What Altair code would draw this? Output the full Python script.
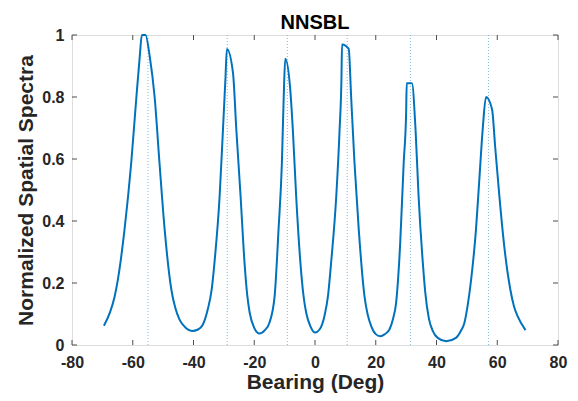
import altair as alt
import pandas as pd

# Spectrum curve (bearing in degrees, normalized spatial spectrum)
bearing = [
    -69.5, -67.5, -66.0, -64.9, -62.7, -60.5, -58.8, -57.7, -57.0, -55.8,
    -54.4, -52.8, -51.2, -49.5, -47.3, -46.0, -44.6, -42.5, -40.5, -38.5,
    -36.9, -35.3, -34.0, -33.1, -31.4, -30.3, -29.5, -29.0, -27.0, -25.9,
    -24.5, -23.2, -22.3, -21.5, -20.0, -18.3, -16.5, -15.0, -13.3, -12.0,
    -10.9, -10.3, -9.8, -8.2, -7.3, -6.2, -4.8, -3.8, -2.9, -1.5,
    0.0, 1.5, 3.1, 4.3, 5.3, 7.0, 8.1, 8.7, 8.9, 11.1,
    11.9, 13.0, 14.4, 16.3, 17.3, 18.5, 20.0, 21.5, 23.0, 24.5,
    25.7, 26.7, 28.0, 29.2, 30.0, 30.2, 31.9, 33.1, 34.1, 35.5,
    36.3, 37.5, 38.8, 40.4, 43.2, 46.4, 48.0, 49.2, 50.3, 51.4,
    53.0, 54.1, 55.2, 56.3, 58.3, 59.3, 60.7, 62.3, 64.3, 65.5,
    66.7, 69.3,
]
spectrum = [
    0.062, 0.105, 0.155, 0.211, 0.373, 0.588, 0.800, 0.930, 1.000, 1.000,
    0.930, 0.800, 0.588, 0.373, 0.179, 0.120, 0.082, 0.055, 0.045, 0.050,
    0.066, 0.115, 0.180, 0.265, 0.480, 0.695, 0.856, 0.955, 0.878, 0.695,
    0.480, 0.265, 0.160, 0.104, 0.055, 0.037, 0.048, 0.072, 0.157, 0.373,
    0.588, 0.800, 0.923, 0.830, 0.695, 0.480, 0.265, 0.160, 0.104, 0.060,
    0.040, 0.050, 0.093, 0.160, 0.265, 0.480, 0.695, 0.856, 0.969, 0.955,
    0.800, 0.588, 0.373, 0.157, 0.100, 0.061, 0.035, 0.028, 0.035, 0.050,
    0.085, 0.136, 0.319, 0.588, 0.749, 0.844, 0.844, 0.695, 0.480, 0.265,
    0.170, 0.085, 0.045, 0.023, 0.012, 0.023, 0.045, 0.072, 0.130, 0.211,
    0.373, 0.534, 0.695, 0.800, 0.760, 0.641, 0.480, 0.319, 0.179, 0.125,
    0.093, 0.048,
]

# True source bearings (dotted vertical lines)
true_bearings = [-55.0, -28.9, -9.1, 10.6, 31.4, 57.1]

# Tick values
x_ticks = [-80, -60, -40, -20, 0, 20, 40, 60, 80]
y_ticks = [0, 0.2, 0.4, 0.6, 0.8, 1]

W, H = 486, 310
FONT = "Liberation Sans"
TXT = "#262626"
TICK = "#4d4d4d"
TL = 5

curve = pd.DataFrame({"b": bearing, "s": spectrum})
truth = pd.DataFrame({"b": true_bearings})
xt = pd.DataFrame({"v": x_ticks})
yt = pd.DataFrame({"v": y_ticks})

xscale = alt.Scale(domain=[-80, 80], nice=False, zero=False)
yscale = alt.Scale(domain=[0, 1], nice=False)

xaxis = alt.Axis(
    values=x_ticks, ticks=False, domain=False, grid=False,
    labelFont=FONT, labelFontSize=16, labelFontWeight="bold", labelColor=TXT,
    labelPadding=9, labelFlush=False, labelOverlap=False,
    labelExpr="replace(datum.label, '\u2212', '-')",
    title="Bearing (Deg)", titleFont=FONT, titleFontSize=21,
    titleFontWeight="bold", titleColor=TXT, titlePadding=1,
)
yaxis = alt.Axis(
    values=y_ticks, format="~g", ticks=False, domain=False, grid=False,
    labelFont=FONT, labelFontSize=16, labelFontWeight="bold", labelColor=TXT,
    labelPadding=8, labelOverlap=False,
    title="Normalized Spatial Spectra", titleFont=FONT, titleFontSize=21,
    titleFontWeight="bold", titleColor=TXT, titlePadding=5,
)

truth_lines = alt.Chart(truth).mark_rule(
    color="#7db9e3", strokeWidth=1, strokeDash=[1, 2]
).encode(x=alt.X("b:Q", scale=xscale, axis=xaxis))

line = alt.Chart(curve).mark_line(
    color="#0072BD", strokeWidth=2, interpolate="monotone"
).encode(
    x=alt.X("b:Q", scale=xscale, axis=xaxis),
    y=alt.Y("s:Q", scale=yscale, axis=yaxis),
    order="b:Q",
)

tick_bottom = alt.Chart(xt).mark_rule(color=TICK, strokeWidth=1).encode(
    x=alt.X("v:Q", scale=xscale, axis=xaxis), y=alt.value(H), y2=alt.value(H - TL)
)
tick_top = alt.Chart(xt).mark_rule(color=TICK, strokeWidth=1).encode(
    x=alt.X("v:Q", scale=xscale, axis=xaxis), y=alt.value(0), y2=alt.value(TL)
)
tick_left = alt.Chart(yt).mark_rule(color=TICK, strokeWidth=1).encode(
    y=alt.Y("v:Q", scale=yscale, axis=yaxis), x=alt.value(0), x2=alt.value(TL)
)
tick_right = alt.Chart(yt).mark_rule(color=TICK, strokeWidth=1).encode(
    y=alt.Y("v:Q", scale=yscale, axis=yaxis), x=alt.value(W), x2=alt.value(W - TL)
)

chart = alt.layer(
    truth_lines, line, tick_bottom, tick_top, tick_left, tick_right
).properties(
    width=W, height=H,
    title=alt.TitleParams(
        "NNSBL", font=FONT, fontSize=20, fontWeight="bold", color="black",
        anchor="middle", offset=-6,
    ),
    autosize=alt.AutoSizeParams(type="none"),
    padding={"left": 64, "top": 27, "right": 12, "bottom": 48},
).configure_view(
    stroke="#9a9a9a", strokeWidth=1
).configure(background="white")

chart.save("out.html", embed_options={"renderer": "svg", "actions": False})
